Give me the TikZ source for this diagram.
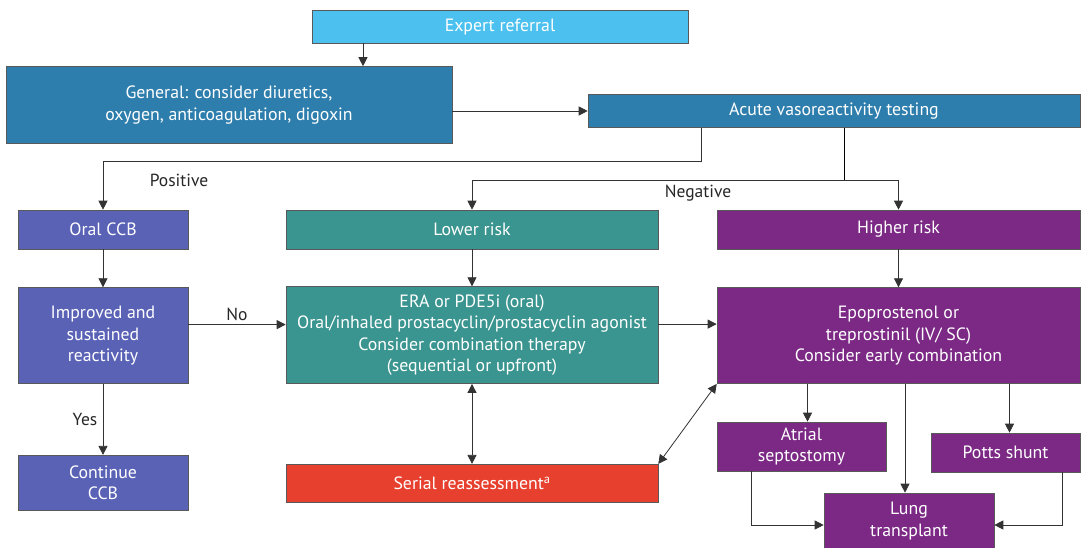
\documentclass[tikz,border=0pt]{standalone}
\usepackage{fontspec}
\setmainfont{PT Sans}
\usetikzlibrary{arrows.meta,positioning}
\definecolor{skyblue}{HTML}{4CC1EF}
\definecolor{steelblue}{HTML}{2E7EAD}
\definecolor{ccbblue}{HTML}{5A62B6}
\definecolor{tealgreen}{HTML}{3A948F}
\definecolor{plum}{HTML}{7B2985}
\definecolor{alarmred}{HTML}{E8402F}

\begin{document}
\begin{tikzpicture}[x=1pt,y=1pt,
    mybox/.style={
    rectangle,
    draw=black!65,
    line width=0.6pt,
    text=white,
    align=center,
    inner sep=2pt,
    font=\fontsize{17.8}{21.5}\selectfont},
    myarrow/.style={-{Triangle[length=9pt,width=9pt]},line width=0.8pt,draw=black!80},
    mydblarrow/.style={{Triangle[length=9pt,width=9pt]}-{Triangle[length=9pt,width=9pt]},line width=0.8pt,draw=black!80},
    mylabel/.style={font=\fontsize{17.5}{20}\selectfont,text=black!85},
    node distance=38pt and 38pt
    ]
    \useasboundingbox (0,0) rectangle (1084,547);

    % top
    \node[mybox, fill=skyblue, minimum width=376pt, minimum height=33pt] (expert) at (500,520.5) {Expert referral};
    \node[mybox, fill=steelblue, minimum width=446pt, minimum height=77pt] (general) at (229,442) {General: consider diuretics,\\oxygen, anticoagulation, digoxin};
    \node[mybox, fill=steelblue, minimum width=492pt, minimum height=33pt] (acute) at (834,436) {Acute vasoreactivity testing};

    % positive branch
    \node[mybox, fill=ccbblue, minimum width=170pt, minimum height=39pt] (oralccb) at (103,317.5) {Oral CCB};
    \node[mybox, fill=ccbblue, minimum width=170pt, minimum height=96pt, below=of oralccb] (improved) {Improved and\\sustained\\reactivity};
    \node[mybox, fill=ccbblue, minimum width=170pt, minimum height=55pt, below=71pt of improved] (continue) {Continue\\CCB};

    % lower risk
    \node[mybox, fill=tealgreen, minimum width=372pt, minimum height=39pt] (lower) at (472,317.5) {Lower risk};
    \node[mybox, fill=tealgreen, minimum width=372pt, minimum height=97pt, below=37pt of lower] (era) {ERA or PDE5i (oral)\\Oral/inhaled prostacyclin/prostacyclin agonist\\Consider combination therapy\\(sequential or upfront)};
    \node[mybox, fill=alarmred, minimum width=372pt, minimum height=38pt, below=80pt of era] (serial) {Serial reassessment\textsuperscript{a}};

    % higher risk
    \node[mybox, fill=plum, minimum width=363pt, minimum height=39pt] (higher) at (898.5,317.5) {Higher risk};
    \node[mybox, fill=plum, minimum width=363pt, minimum height=96pt, below=of higher] (epo) {Epoprostenol or\\treprostinil (IV/ SC)\\Consider early combination};
    \node[mybox, fill=plum, minimum width=169pt, minimum height=49pt] (atrial) at (801.5,100.5) {Atrial\\septostomy};
    \node[mybox, fill=plum, minimum width=149pt, minimum height=39pt] (potts) at (1005.5,94.5) {Potts shunt};
    \node[mybox, fill=plum, minimum width=170pt, minimum height=56pt] (lung) at (909,26) {Lung\\transplant};

    \draw[myarrow] ([xshift=-137pt]expert.south) -- ([xshift=-137pt]expert.south |- general.north);
    \draw[myarrow] (general.east |- acute.west) -- (acute.west);

    \draw[myarrow] ([xshift=-133pt]acute.south) -- ++(0,-33.5) -| (oralccb.north);
    \node[mylabel] (positive) at (179,367) {Positive};
    \draw ([xshift=10pt]acute.south) -- ++(0,-52.5) coordinate (negsplit);
    \draw[myarrow] (negsplit) -| (lower.north);
    \draw[myarrow] (negsplit) -| (higher.north);
    \node[mylabel] (negative) at (698,354) {Negative};

    \draw[myarrow] (oralccb) -- (improved);
    \draw[myarrow] (improved) -- (continue) node [midway, left, mylabel, xshift=-2pt] {Yes};
    \draw[myarrow] ([yshift=11pt]improved.east) -- ([yshift=11pt]improved.east -| era.west) node [midway, above, mylabel] {No};

    \draw[myarrow] (lower) -- (era);
    \draw[myarrow] (higher) -- (epo);
    \draw[myarrow] ([yshift=11pt]era.east) -- ([yshift=11pt]era.east -| epo.west);
    \draw[mydblarrow] (era.south) -- (serial.north);
    \draw[mydblarrow] (serial.north east) -- (epo.south west);

    \draw[myarrow] ([xshift=6pt]atrial.north |- epo.south) -- ([xshift=6pt]atrial.north);
    \draw[myarrow] ([xshift=-4pt]lung.north |- epo.south) -- ([xshift=-4pt]lung.north);
    \draw[myarrow] ([xshift=4pt]potts.north |- epo.south) -- ([xshift=4pt]potts.north);
    \draw[myarrow] ([xshift=-50pt]atrial.south) |- ([yshift=-4pt]lung.west);
    \draw[myarrow] ([xshift=57pt]potts.south) |- ([yshift=-4pt]lung.east);
\end{tikzpicture}
\end{document}
